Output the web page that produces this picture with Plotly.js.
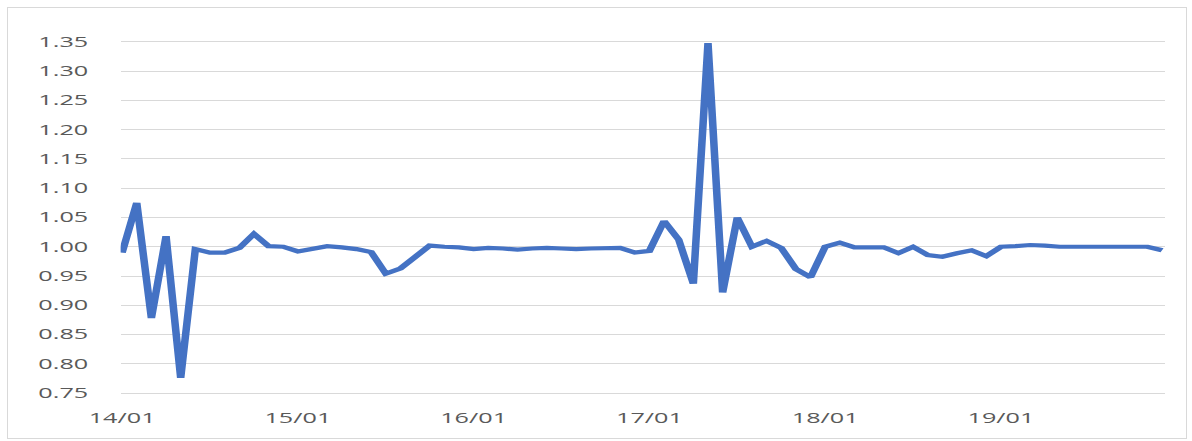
<!DOCTYPE html>
<html>
<head>
<meta charset="utf-8">
<script src="https://cdn.plot.ly/plotly-3.0.1.min.js"></script>
<style>
  html, body { margin: 0; padding: 0; background: #ffffff; overflow: hidden; }
  #frame { position: absolute; left: 7px; top: 7px; width: 1180px; height: 432px; border: 1px solid #d9d9d9; box-sizing: border-box; pointer-events: none; z-index: 2; }
  #chart { position: absolute; left: 0; top: 0; width: 662px; height: 441px; transform: scaleX(1.8006); transform-origin: 0 0; }
</style>
</head>
<body>
<div id="chart"></div>
<div id="frame"></div>
<script>
// Monthly categories 14/01 .. 19/12
const months = [
  "14/01","14/02","14/03","14/04","14/05","14/06","14/07","14/08","14/09","14/10","14/11","14/12",
  "15/01","15/02","15/03","15/04","15/05","15/06","15/07","15/08","15/09","15/10","15/11","15/12",
  "16/01","16/02","16/03","16/04","16/05","16/06","16/07","16/08","16/09","16/10","16/11","16/12",
  "17/01","17/02","17/03","17/04","17/05","17/06","17/07","17/08","17/09","17/10","17/11","17/12",
  "18/01","18/02","18/03","18/04","18/05","18/06","18/07","18/08","18/09","18/10","18/11","18/12",
  "19/01","19/02","19/03","19/04","19/05","19/06","19/07","19/08","19/09","19/10","19/11","19/12"
];

// Series values
const values = [
  0.990, 1.075, 0.878, 1.018, 0.776, 0.996, 0.990, 0.990, 0.998, 1.022, 1.001, 1.000,
  0.992, 0.996, 1.001, 0.999, 0.996, 0.991, 0.954, 0.963, 0.983, 1.002, 1.000, 0.999,
  0.996, 0.998, 0.997, 0.995, 0.997, 0.998, 0.997, 0.996, 0.997, 0.998, 0.998, 0.990,
  0.993, 1.044, 1.012, 0.937, 1.348, 0.922, 1.050, 1.000, 1.010, 0.998, 0.962, 0.948,
  1.000, 1.007, 0.999, 0.999, 0.999, 0.989, 1.000, 0.986, 0.983, 0.989, 0.994, 0.984,
  1.000, 1.001, 1.003, 1.002, 1.000, 1.000, 1.000, 1.000, 1.000, 1.000, 1.000, 0.994
];

// Tick labels
const xTickLabels = ["14/01","15/01","16/01","17/01","18/01","19/01"];
const yTickValues = [0.75, 0.80, 0.85, 0.90, 0.95, 1.00, 1.05, 1.10, 1.15, 1.20, 1.25, 1.30, 1.35];

const trace = {
  type: "scatter",
  mode: "lines",
  x: months,
  y: values,
  line: { color: "#4472C4", width: 4.2 },
  hoverinfo: "x+y"
};

const tickFont = { family: "Open Sans, sans-serif", size: 14, color: "#595959" };

const layout = {
  width: 662,
  height: 441,
  margin: { l: 67, r: 14.5, t: 39.4, b: 44.8, pad: 0 },
  paper_bgcolor: "#ffffff",
  plot_bgcolor: "#ffffff",
  showlegend: false,
  xaxis: {
    type: "category",
    range: [-0.1, 71.2],
    tickmode: "array",
    tickvals: xTickLabels,
    ticktext: xTickLabels,
    showgrid: false,
    zeroline: false,
    showline: false,
    ticks: "",
    tickangle: 0,
    tickfont: tickFont,
    ticklabelstandoff: 12
  },
  yaxis: {
    range: [0.745, 1.355],
    tickmode: "array",
    tickvals: yTickValues,
    ticktext: yTickValues.map(v => v.toFixed(2)),
    showgrid: true,
    gridcolor: "#d9d9d9",
    gridwidth: 1,
    zeroline: false,
    showline: false,
    ticks: "",
    tickfont: tickFont,
    ticklabelstandoff: 17
  }
};

Plotly.newPlot("chart", [trace], layout, { displayModeBar: false, staticPlot: true });
</script>
</body>
</html>
